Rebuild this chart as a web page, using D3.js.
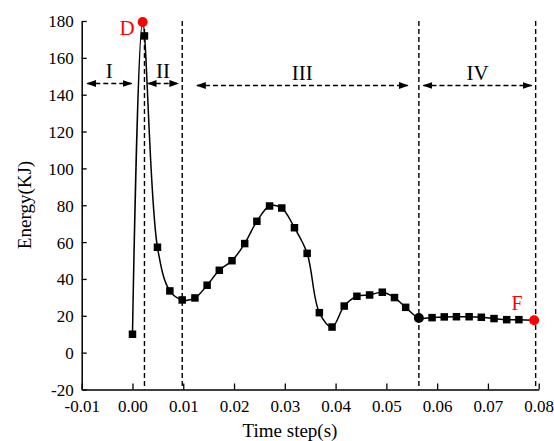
<!DOCTYPE html>
<html><head><meta charset="utf-8">
<script src="https://cdn.jsdelivr.net/npm/d3@7/dist/d3.min.js"></script>
<style>body{margin:0;background:#fff;} svg{display:block;} text{font-family:"Liberation Serif","Times New Roman",serif;}</style>
</head><body>
<script>
// Data
const timeSteps = [0.0000, 0.00236, 0.00492, 0.00736, 0.00979, 0.0123, 0.0147, 0.0171, 0.0196, 0.0221, 0.0245, 0.0270, 0.0294, 0.0319, 0.0344, 0.0368, 0.0393, 0.0417, 0.0442, 0.0467, 0.0492, 0.0516, 0.0538, 0.0590, 0.0614, 0.0638, 0.0663, 0.0687, 0.0712, 0.0737, 0.0761];
const energy    = [10.0, 171.9, 57.2, 33.5, 28.6, 29.7, 36.6, 44.7, 49.9, 59.2, 71.3, 79.6, 78.5, 67.8, 53.9, 21.7, 13.9, 25.3, 30.6, 31.3, 32.8, 29.9, 24.6, 19.0, 19.4, 19.5, 19.5, 19.2, 18.5, 17.9, 17.9];
const peakD = {x: 0.00200, y: 179.5, label: "D"};
const endF = {x: 0.0791, y: 17.6, label: "F"};
const stageStart = {x: 0.0564, y: 18.8};
const boundaries = [0.00236, 0.0098, 0.0564, 0.0794];
const stageLabels = ["I", "II", "III", "IV"];
const stageArrows = [[-0.0089, -0.0002], [0.0030, 0.0090], [0.0127, 0.0542], [0.0573, 0.0786]];
const xTicks = [-0.01, 0.00, 0.01, 0.02, 0.03, 0.04, 0.05, 0.06, 0.07, 0.08];
const yTicks = [-20, 0, 20, 40, 60, 80, 100, 120, 140, 160, 180];

const W = 554, H = 441;
const svg = d3.select("body").append("svg").attr("width", W).attr("height", H);
const x = d3.scaleLinear().domain([-0.01, 0.08]).range([81.7, 538.7]);
const y = d3.scaleLinear().domain([-20, 180]).range([389.5, 21]);

// defs: arrow marker
const defs = svg.append("defs");
defs.append("marker").attr("id", "arr").attr("viewBox", "0 0 10 10").attr("refX", 9).attr("refY", 5)
  .attr("markerWidth", 7).attr("markerHeight", 7).attr("orient", "auto-start-reverse")
  .append("path").attr("d", "M0,1.5 L10,5 L0,8.5 Z").attr("fill", "#000");

// vertical dashed boundaries
svg.append("g").selectAll("line").data(boundaries).join("line")
  .attr("x1", d => x(d)).attr("x2", d => x(d)).attr("y1", y(180)).attr("y2", y(-20))
  .attr("stroke", "#000").attr("stroke-width", 1.4).attr("stroke-dasharray", "5,3");

// stage arrows
const arrowY = [83.5, 83.5, 85.5, 85.5];
svg.append("g").selectAll("line").data(stageArrows).join("line")
  .attr("x1", d => x(d[0])).attr("x2", d => x(d[1]))
  .attr("y1", (d, i) => arrowY[i]).attr("y2", (d, i) => arrowY[i])
  .attr("stroke", "#000").attr("stroke-width", 1.4).attr("stroke-dasharray", "5,3")
  .attr("marker-start", "url(#arr)").attr("marker-end", "url(#arr)");
svg.append("g").selectAll("text").data(stageLabels).join("text")
  .attr("x", (d, i) => x((stageArrows[i][0] + stageArrows[i][1]) / 2))
  .attr("y", (d, i) => arrowY[i] - 6)
  .attr("text-anchor", "middle").attr("font-size", 21).text(d => d);

// axes
const fx = d3.format(".2f");
const gx = svg.append("g").attr("transform", `translate(0,${y(-20)})`)
  .call(d3.axisBottom(x).tickValues(xTicks).tickSizeInner(-6).tickSizeOuter(0).tickPadding(10).tickFormat(d => fx(d).replace("\u2212", "-")));
const gy = svg.append("g").attr("transform", `translate(${x(-0.01)},0)`)
  .call(d3.axisLeft(y).tickValues(yTicks).tickSizeInner(-5).tickSizeOuter(0).tickPadding(8).tickFormat(d => String(d)));
[gx, gy].forEach(g => {
  g.select(".domain").attr("stroke-width", 1.5);
  g.selectAll(".tick line").attr("stroke-width", 1.3);
  g.selectAll("text").attr("font-size", 17).attr("fill", "#000").style("font-family", '"Liberation Serif",serif');
});
gx.selectAll("text").attr("dy", "0.71em");
gy.selectAll("text").attr("dy", "0.35em");

// axis titles
svg.append("text").attr("x", 290).attr("y", 437).attr("text-anchor", "middle").attr("font-size", 19).text("Time step(s)");
svg.append("text").attr("transform", `translate(31,205) rotate(-90)`).attr("text-anchor", "middle").attr("font-size", 19).text("Energy(KJ)");

// curve
const pts = timeSteps.map((t, i) => ({x: t, y: energy[i]})).filter((p, i) => i !== 1);
pts.push({x: peakD.x, y: peakD.y}, {x: stageStart.x, y: stageStart.y}, {x: endF.x, y: endF.y});
pts.sort((a, b) => a.x - b.x);
const line = d3.line().x(d => x(d.x)).y(d => y(d.y)).curve(d3.curveCatmullRom.alpha(0.5));
svg.append("path").datum(pts).attr("d", line).attr("fill", "none").attr("stroke", "#000").attr("stroke-width", 1.5);

// square markers
const s = 7.5;
svg.append("g").selectAll("rect").data(timeSteps).join("rect")
  .attr("x", d => x(d) - s / 2).attr("y", (d, i) => y(energy[i]) - s / 2)
  .attr("width", s).attr("height", s).attr("fill", "#000");

// special circles
svg.append("circle").attr("cx", x(stageStart.x)).attr("cy", y(stageStart.y)).attr("r", 5).attr("fill", "#000");
svg.append("circle").attr("cx", x(peakD.x)).attr("cy", y(peakD.y)).attr("r", 5).attr("fill", "#f00");
svg.append("circle").attr("cx", x(endF.x)).attr("cy", y(endF.y)).attr("r", 5).attr("fill", "#f00");
svg.append("text").attr("x", x(peakD.x) - 8).attr("y", y(peakD.y) + 13).attr("text-anchor", "end")
  .attr("font-size", 21).attr("fill", "#f00").text(peakD.label);
svg.append("text").attr("x", x(endF.x) - 17).attr("y", y(endF.y) - 10).attr("text-anchor", "middle")
  .attr("font-size", 20).attr("fill", "#f00").text(endF.label);
</script>
</body></html>
